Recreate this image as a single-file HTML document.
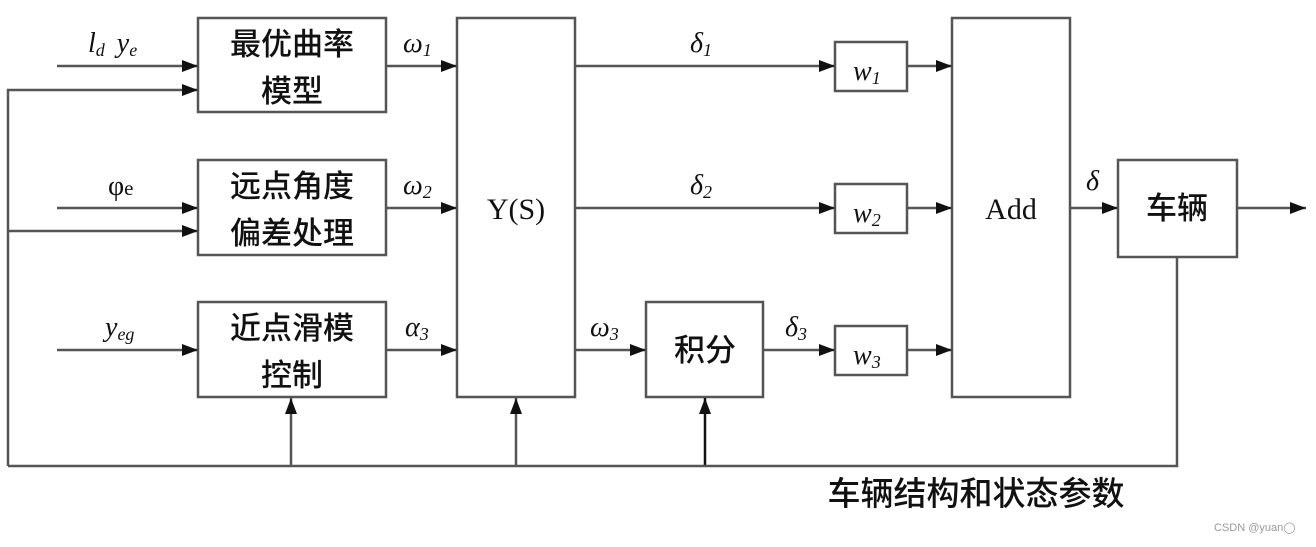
<!DOCTYPE html>
<html><head><meta charset="utf-8"><style>
body{margin:0;background:#fff;width:1316px;height:542px;overflow:hidden}
</style></head><body>
<svg width="1316" height="542" viewBox="0 0 1316 542" xmlns="http://www.w3.org/2000/svg">
<defs><marker id="a" markerWidth="16" markerHeight="12" refX="16" refY="6" orient="auto" markerUnits="userSpaceOnUse"><path d="M0,0 L16,6 L0,12 z" fill="#111"/></marker></defs>
<g stroke="#555" stroke-width="2.5" fill="#fff">
<rect x="198" y="18" width="188" height="94"/>
<rect x="198" y="160" width="188" height="95"/>
<rect x="198" y="302" width="188" height="95"/>
<rect x="457" y="18" width="118" height="379"/>
<rect x="646" y="302" width="117" height="95"/>
<rect x="835" y="42" width="72" height="49"/>
<rect x="835" y="184" width="72" height="49"/>
<rect x="835" y="326" width="72" height="49"/>
<rect x="952" y="18" width="118" height="379"/>
<rect x="1118" y="160" width="119" height="97"/>
</g>
<g stroke="#555" stroke-width="2.5" fill="none" marker-end="url(#a)">
<line x1="57" y1="66" x2="198" y2="66"/>
<polyline points="8,466 8,90 198,90" marker-end="url(#a)"/>
<line x1="57" y1="208" x2="198" y2="208"/>
<line x1="8" y1="231" x2="198" y2="231"/>
<line x1="57" y1="350" x2="198" y2="350"/>
<line x1="386" y1="66" x2="457" y2="66"/>
<line x1="386" y1="208" x2="457" y2="208"/>
<line x1="386" y1="350" x2="457" y2="350"/>
<line x1="575" y1="66" x2="835" y2="66"/>
<line x1="575" y1="208" x2="835" y2="208"/>
<line x1="575" y1="350" x2="646" y2="350"/>
<line x1="763" y1="350" x2="835" y2="350"/>
<line x1="907" y1="66" x2="952" y2="66"/>
<line x1="907" y1="208" x2="952" y2="208"/>
<line x1="907" y1="350" x2="952" y2="350"/>
<line x1="1070" y1="208" x2="1118" y2="208"/>
<line x1="1237" y1="208" x2="1306" y2="208"/>
<line x1="291" y1="466" x2="291" y2="398"/>
<line x1="516" y1="466" x2="516" y2="398"/>
<line x1="705" y1="466" x2="705" y2="398" stroke="#111"/>
</g>
<polyline points="8,466 1177,466 1177,257" stroke="#555" stroke-width="2.5" fill="none"/>
<g font-family="Liberation Sans, Noto Sans CJK SC, sans-serif" font-size="31" fill="#111" text-anchor="middle" font-weight="500">
<text x="292" y="55">最优曲率</text><text x="292" y="102">模型</text>
<text x="292" y="197">远点角度</text><text x="292" y="244">偏差处理</text>
<text x="292" y="339">近点滑模</text><text x="292" y="386">控制</text>
<text x="705" y="361">积分</text>
<text x="1177" y="219">车辆</text>
<text x="976" y="505" font-size="33">车辆结构和状态参数</text>
</g>
<g font-family="Liberation Serif, serif" font-size="30" fill="#111">
<text x="516" y="219" text-anchor="middle">Y(S)</text>
<text x="1011" y="219" text-anchor="middle">Add</text>
<g font-style="italic" font-size="28">
<text x="88" y="52">l<tspan font-size="18" dy="4">d</tspan><tspan dx="12" dy="-4">y</tspan><tspan font-size="18" dy="4">e</tspan></text>
<text x="403" y="52">ω<tspan font-size="18" dy="4">1</tspan></text>
<text x="403" y="194">ω<tspan font-size="18" dy="4">2</tspan></text>
<text x="405" y="336">α<tspan font-size="18" dy="4">3</tspan></text>
<text x="590" y="336">ω<tspan font-size="18" dy="4">3</tspan></text>
<text x="105" y="336">y<tspan font-size="18" dy="4">eg</tspan></text>
<text x="690" y="52">δ<tspan font-size="18" dy="4">1</tspan></text>
<text x="690" y="194">δ<tspan font-size="18" dy="4">2</tspan></text>
<text x="785" y="336">δ<tspan font-size="18" dy="4">3</tspan></text>
<text x="1086" y="190">δ</text>
<text x="853" y="80">w<tspan font-size="18" dy="4">1</tspan></text>
<text x="853" y="222">w<tspan font-size="18" dy="4">2</tspan></text>
<text x="853" y="364">w<tspan font-size="18" dy="4">3</tspan></text>
</g>
<text x="108" y="195" font-size="28">φ<tspan font-size="21">e</tspan></text>
</g>
<text x="1214" y="531" font-family="Liberation Sans, sans-serif" font-size="11" fill="#999">CSDN @yuan◯</text>
</svg>
</body></html>
